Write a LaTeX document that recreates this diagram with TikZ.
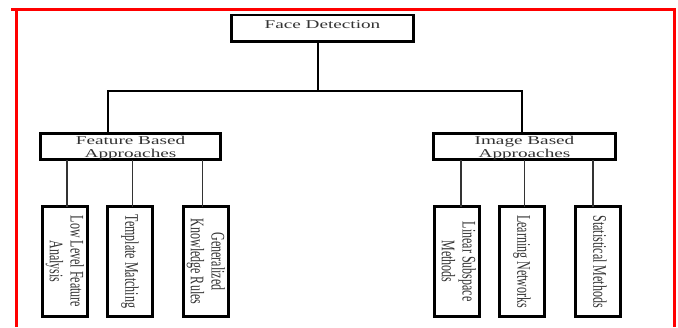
\documentclass[tikz,border=0pt]{standalone}
\usepackage{fontspec}
\setmainfont{Liberation Serif}
\newfontfamily\widefont[FakeStretch=1.6]{Liberation Serif}
\usepackage{graphicx}
\usetikzlibrary{positioning, calc}

\newcommand{\vlabel}[2]{\rotatebox{-90}{\scalebox{1}[1.6]{\begin{tabular}{@{}c@{}}#1\\#2\end{tabular}}}}

\begin{document}
\begin{tikzpicture}[x=1pt, y=-1pt, node distance = 20pt,
topbox/.style={rectangle, align=center, draw=black, line width=2.6pt, inner sep=0pt, outer sep=0pt, text=black!80, font={\widefont\fontsize{12}{13}\selectfont}},
leaf/.style={rectangle, draw=black, line width=3pt, minimum width=45pt, minimum height=110pt, inner sep=0pt, outer sep=0pt, text=black!80, font={\fontsize{12}{13}\selectfont}},
trunk/.style={draw=black, line width=2.5pt},
link/.style={draw=black!80, line width=1.8pt},
frame/.style={draw=red, line width=3pt},
]

\useasboundingbox (0,0) rectangle (678,327);

% Frame
\draw [frame] (16,327) -- (16,9);
\draw [frame] (11,9) -- (676,9);
\draw [frame] (674,9) -- (674,327);

%Nodes
\node [topbox, minimum width=182pt, minimum height=26.5pt, text height=8pt, text depth=8pt] (face) at (322.5, 28.25) {Face Detection};
\node [topbox, minimum width=180pt, minimum height=26pt, text height=23pt, text depth=0.5pt] (feat) at (130.5, 146.5) {Feature Based\\Approaches};
\node [topbox, minimum width=182pt, minimum height=26pt, text height=23pt, text depth=0.5pt] (image) at (524.5, 146.5) {Image Based\\Approaches};

\node [leaf] (lowlevel) at (64.5, 261.5) {\vlabel{Low Level Feature}{Analysis}};
\node [leaf] (template) [right = of lowlevel] {\vlabel{Template Matching}{}};
\node [leaf] (knowledge) [right = 31pt of template] {\vlabel{Generalized}{Knowledge Rules}};

\node [leaf] (linear) at (456.5, 261.5) {\vlabel{Linear Subspace}{Methods}};
\node [leaf] (learning) [right = of linear] {\vlabel{Learning Networks}{}};
\node [leaf] (statistical) [right = 31pt of learning] {\vlabel{Statistical Methods}{}};

% Paths
\coordinate (split) at (318, 91);
\draw [trunk] (face.south -| split) -- (split);
\draw [trunk] ($(feat.north)+(-22.5,0)$) |- (split) -| ($(image.north)+(-2.5,0)$);

\draw [link] ($(lowlevel.north)+(2.5,0)$) -- ($(lowlevel.north |- feat.south)+(2.5,0)$);
\draw [link] ($(template.north)+(3,0)$) -- ($(template.north |- feat.south)+(3,0)$);
\draw [link] ($(knowledge.north)+(-3,0)$) -- ($(knowledge.north |- feat.south)+(-3,0)$);

\draw [link] ($(linear.north)+(4.5,0)$) -- ($(linear.north |- image.south)+(4.5,0)$);
\draw [link] ($(learning.north)+(3,0)$) -- ($(learning.north |- image.south)+(3,0)$);
\draw [link] ($(statistical.north)+(-4.5,0)$) -- ($(statistical.north |- image.south)+(-4.5,0)$);
\end{tikzpicture}
\end{document}
